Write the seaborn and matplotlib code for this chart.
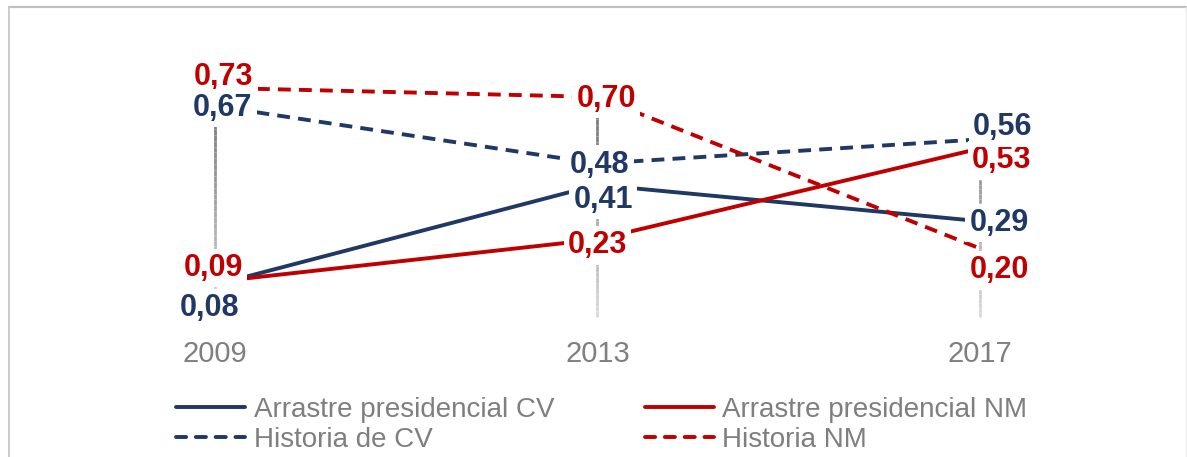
import numpy as np
import pandas as pd
import seaborn as sns
import matplotlib.pyplot as plt
from matplotlib.collections import LineCollection
from matplotlib.lines import Line2D

# Data
years = [2009, 2013, 2017]
arrastre_cv = [0.08, 0.41, 0.29]
arrastre_nm = [0.09, 0.23, 0.53]
historia_cv = [0.67, 0.48, 0.56]
historia_nm = [0.73, 0.70, 0.20]
series_names = ['Arrastre presidencial CV', 'Historia de CV',
                'Arrastre presidencial NM', 'Historia NM']

df = pd.DataFrame({
    'year': years * 4,
    'value': arrastre_cv + historia_cv + arrastre_nm + historia_nm,
    'series': np.repeat(series_names, len(years)),
})

navy = '#1F3864'
red = '#C00000'
gray = '#7F7F7F'
palette = {series_names[0]: navy, series_names[1]: navy,
           series_names[2]: red, series_names[3]: red}
dashes = {series_names[0]: '', series_names[1]: (3.3, 2.1),
          series_names[2]: '', series_names[3]: (3.3, 2.1)}

# label offsets in pixels (dx, dy up-positive) per series / year index
label_offsets = {
    series_names[0]: [(-5, -23), (6, -15), (19, -2)],
    series_names[1]: [(8, -2), (2, -1), (23, 12)],
    series_names[2]: [(-2, 14), (0, -6), (22, -12)],
    series_names[3]: [(9, 11), (9, -2), (19, -22)],
}
# drawing order of the labels (later ones sit on top)
label_order = [series_names[3], series_names[2], series_names[0], series_names[1]]

sns.set_theme(style='white')
plt.rcParams['font.family'] = ['Liberation Sans', 'DejaVu Sans']

W, H = 1187, 457
fig = plt.figure(figsize=(W / 100, H / 100), dpi=100)
ax_bottom_px = 330
ax = fig.add_axes([0, (H - ax_bottom_px) / H, 1, ax_bottom_px / H])
ax.set_xlim(2006.752, 2019.165)
ax.set_ylim(-0.069, 1.0198)

# vertical drop lines with a light gradient
y_floor = -0.026
tops = df.groupby('year')['value'].max()
for yr, top in tops.items():
    ys = np.linspace(top, y_floor, 40)
    segs = [[(yr, ys[i]), (yr, ys[i + 1])] for i in range(len(ys) - 1)]
    shade = np.interp(ys[:-1], [y_floor, 0.75], [0.86, 0.42])
    lc = LineCollection(segs, colors=[(s, s, s) for s in shade], linewidths=2, zorder=1)
    ax.add_collection(lc)

sns.lineplot(data=df, x='year', y='value', hue='series', style='series',
             palette=palette, dashes=dashes, linewidth=2.8, legend=False,
             ax=ax, zorder=2)
for ln in ax.get_lines():
    ln.set_clip_on(False)

z = 5
for name in label_order:
    sub = df[df['series'] == name]
    color = palette[name]
    for i, (yr, v) in enumerate(zip(sub['year'], sub['value'])):
        dx, dy = label_offsets[name][i]
        ax.annotate(f'{v:.2f}'.replace('.', ','), xy=(yr, v), xytext=(dx, dy),
                    textcoords='offset pixels', ha='center', va='center',
                    fontsize=22, fontweight='bold', color=color, zorder=z,
                    bbox=dict(boxstyle='square,pad=0.14', fc='white', ec='none'))
    z += 1

ax.set_xticks(years)
ax.set_xticklabels([str(y) for y in years])
ax.set_yticks([])
ax.tick_params(axis='x', length=0, pad=7, labelsize=21, labelcolor=gray)
ax.set_xlabel('')
ax.set_ylabel('')
for sp in ax.spines.values():
    sp.set_visible(False)
ax.patch.set_alpha(0)

handles = []
for name in series_names:
    ls = '-' if dashes[name] == '' else (0, (2.6, 2.5))
    handles.append(Line2D([], [], color=palette[name], lw=2.8, linestyle=ls,
                          dash_capstyle='round', solid_capstyle='round'))
leg = fig.legend(handles, series_names, ncol=2, loc='upper left',
                 bbox_to_anchor=(176 / W, 1 - 397 / H), frameon=False,
                 fontsize=20, handlelength=2.5, handletextpad=0.3,
                 columnspacing=3.25, labelspacing=0.15, borderpad=0,
                 borderaxespad=0)
for t in leg.get_texts():
    t.set_color(gray)

# chart-area border
fig.add_artist(Line2D([9 / W, 1186 / W], [1 - 6.5 / H, 1 - 6.5 / H],
                      transform=fig.transFigure, color='#C0C0C0', lw=1.6))
fig.add_artist(Line2D([9 / W, 9 / W], [0, 1 - 6.5 / H],
                      transform=fig.transFigure, color='#C8C8C8', lw=1.3))
fig.add_artist(Line2D([1186 / W, 1186 / W], [0, 1 - 6.5 / H],
                      transform=fig.transFigure, color='#EBEBEB', lw=1.0))

fig.savefig('out.png', dpi=100)
